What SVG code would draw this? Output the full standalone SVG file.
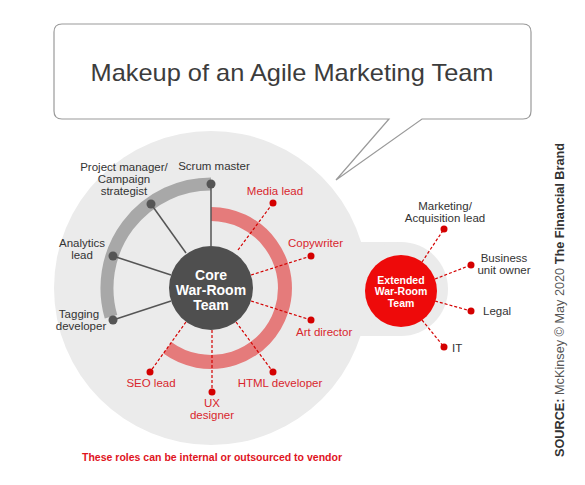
<svg xmlns="http://www.w3.org/2000/svg" width="585" height="485" viewBox="0 0 585 485">
<style>
.lbl{font-family:"Liberation Sans",Arial,sans-serif;font-size:11.5px;fill:#333}
.rl{font-family:"Liberation Sans",Arial,sans-serif;font-size:11.5px;fill:#d9262d}
.core{font-family:"Liberation Sans",Arial,sans-serif;font-size:14px;font-weight:bold;fill:#fff}
.ext{font-family:"Liberation Sans",Arial,sans-serif;font-size:10.5px;font-weight:bold;fill:#fff}
.sl{stroke:#555;stroke-width:1.5;fill:none}
.dl{stroke:#d40000;stroke-width:1.2;stroke-dasharray:3 2;fill:none}
.gd{fill:#555}
.rd{fill:#d40000}
</style>
<rect width="585" height="485" fill="#fff"/>
<g id="bubble">
<path d="M62,24 H523 Q531,24 531,32 V111 Q531,119 523,119 H422 L336,180 L389,119 H62 Q54,119 54,111 V32 Q54,24 62,24 Z" fill="#fff" stroke="#9a9a9a" stroke-width="1.2"/>
<text x="292" y="81" text-anchor="middle" font-family="Liberation Sans,Arial,sans-serif" font-size="24" fill="#3c3c3c" textLength="403" lengthAdjust="spacingAndGlyphs">Makeup of an Agile Marketing Team</text>
</g>
<g id="background">
<circle cx="211" cy="288" r="157" fill="#ebebeb"/>
<rect x="300" y="242" width="101" height="94" fill="#ebebeb"/>
<circle cx="401" cy="289" r="47" fill="#ebebeb"/>
</g>
<g id="arcs">
<path d="M211,184 A104,104 0 0 0 111,316.7" stroke="#a8a8a8" stroke-width="13" fill="none"/>
<path d="M211,214 A74,74 0 1 1 167.5,347.9" stroke="#e57b7b" stroke-width="14" fill="none"/>
</g>
<g id="connectors">
<line class="sl" x1="211" y1="184" x2="211" y2="246"/>
<line class="sl" x1="151" y1="204" x2="186" y2="253"/>
<line class="sl" x1="113" y1="256" x2="171" y2="275"/>
<line class="sl" x1="113" y1="320" x2="171" y2="301"/>
<line class="dl" x1="238" y1="250" x2="273" y2="203"/>
<line class="dl" x1="251" y1="275" x2="311" y2="256"/>
<line class="dl" x1="251" y1="301" x2="311" y2="320"/>
<line class="dl" x1="236" y1="322" x2="273" y2="372"/>
<line class="dl" x1="212" y1="330" x2="212" y2="392"/>
<line class="dl" x1="186" y1="322" x2="150" y2="372"/>
<line class="dl" x1="422" y1="262" x2="444" y2="229"/>
<line class="dl" x1="435" y1="279" x2="471" y2="265"/>
<line class="dl" x1="435" y1="301" x2="471" y2="311"/>
<line class="dl" x1="422" y1="320" x2="444" y2="347"/>
</g>
<g id="scrum-master"><circle class="gd" cx="211" cy="184" r="4.5"/><text class="lbl" x="214" y="170" text-anchor="middle">Scrum master</text></g>
<g id="project-manager"><circle class="gd" cx="151" cy="204" r="4.5"/><text class="lbl" text-anchor="middle"><tspan x="124" y="171">Project manager/</tspan><tspan x="124" y="183">Campaign</tspan><tspan x="124" y="195">strategist</tspan></text></g>
<g id="analytics-lead"><circle class="gd" cx="113" cy="256" r="4.5"/><text class="lbl" text-anchor="middle"><tspan x="82" y="247">Analytics</tspan><tspan x="82" y="259">lead</tspan></text></g>
<g id="tagging-developer"><circle class="gd" cx="113" cy="320" r="4.5"/><text class="lbl" text-anchor="middle"><tspan x="79" y="318">Tagging</tspan><tspan x="81" y="330">developer</tspan></text></g>
<g id="media-lead"><circle class="rd" cx="273" cy="203" r="3.5"/><text class="rl" x="275" y="195" text-anchor="middle">Media lead</text></g>
<g id="copywriter"><circle class="rd" cx="311" cy="256" r="3.5"/><text class="rl" x="288" y="247">Copywriter</text></g>
<g id="art-director"><circle class="rd" cx="311" cy="320" r="3.5"/><text class="rl" x="296" y="336">Art director</text></g>
<g id="html-developer"><circle class="rd" cx="273" cy="372" r="3.5"/><text class="rl" x="280" y="387" text-anchor="middle">HTML developer</text></g>
<g id="ux-designer"><circle class="rd" cx="212" cy="392" r="3.5"/><text class="rl" text-anchor="middle"><tspan x="212" y="407">UX</tspan><tspan x="212" y="419">designer</tspan></text></g>
<g id="seo-lead"><circle class="rd" cx="150" cy="372" r="3.5"/><text class="rl" x="151" y="387" text-anchor="middle">SEO lead</text></g>
<g id="core-team"><circle cx="211" cy="288" r="42" fill="#4f4f4f"/><text class="core" text-anchor="middle"><tspan x="211" y="280">Core</tspan><tspan x="211" y="295">War-Room</tspan><tspan x="211" y="310">Team</tspan></text></g>
<g id="extended-team"><circle cx="401" cy="291" r="36" fill="#ee0a0a"/><text class="ext" text-anchor="middle"><tspan x="401" y="283.5">Extended</tspan><tspan x="401" y="295">War-Room</tspan><tspan x="401" y="306.5">Team</tspan></text></g>
<g id="marketing-lead"><circle class="rd" cx="444" cy="229" r="3.5"/><text class="lbl" text-anchor="middle"><tspan x="445" y="210">Marketing/</tspan><tspan x="445" y="222">Acquisition lead</tspan></text></g>
<g id="business-unit-owner"><circle class="rd" cx="471" cy="265" r="3.5"/><text class="lbl" text-anchor="middle"><tspan x="504" y="262">Business</tspan><tspan x="504" y="274">unit owner</tspan></text></g>
<g id="legal"><circle class="rd" cx="471" cy="311" r="3.5"/><text class="lbl" x="483" y="315">Legal</text></g>
<g id="it"><circle class="rd" cx="444" cy="347" r="3.5"/><text class="lbl" x="452" y="352">IT</text></g>
<text x="82" y="461" font-family="Liberation Sans,Arial,sans-serif" font-size="11" font-weight="bold" fill="#e0141e" textLength="260" lengthAdjust="spacingAndGlyphs">These roles can be internal or outsourced to vendor</text>
<text transform="translate(564,457) rotate(-90)" font-family="Liberation Sans,Arial,sans-serif" font-size="12.5" fill="#555" textLength="314" lengthAdjust="spacingAndGlyphs"><tspan font-weight="bold" fill="#333">SOURCE:</tspan> McKinsey © May 2020 <tspan font-weight="bold" fill="#333">The Financial Brand</tspan></text>
</svg>
